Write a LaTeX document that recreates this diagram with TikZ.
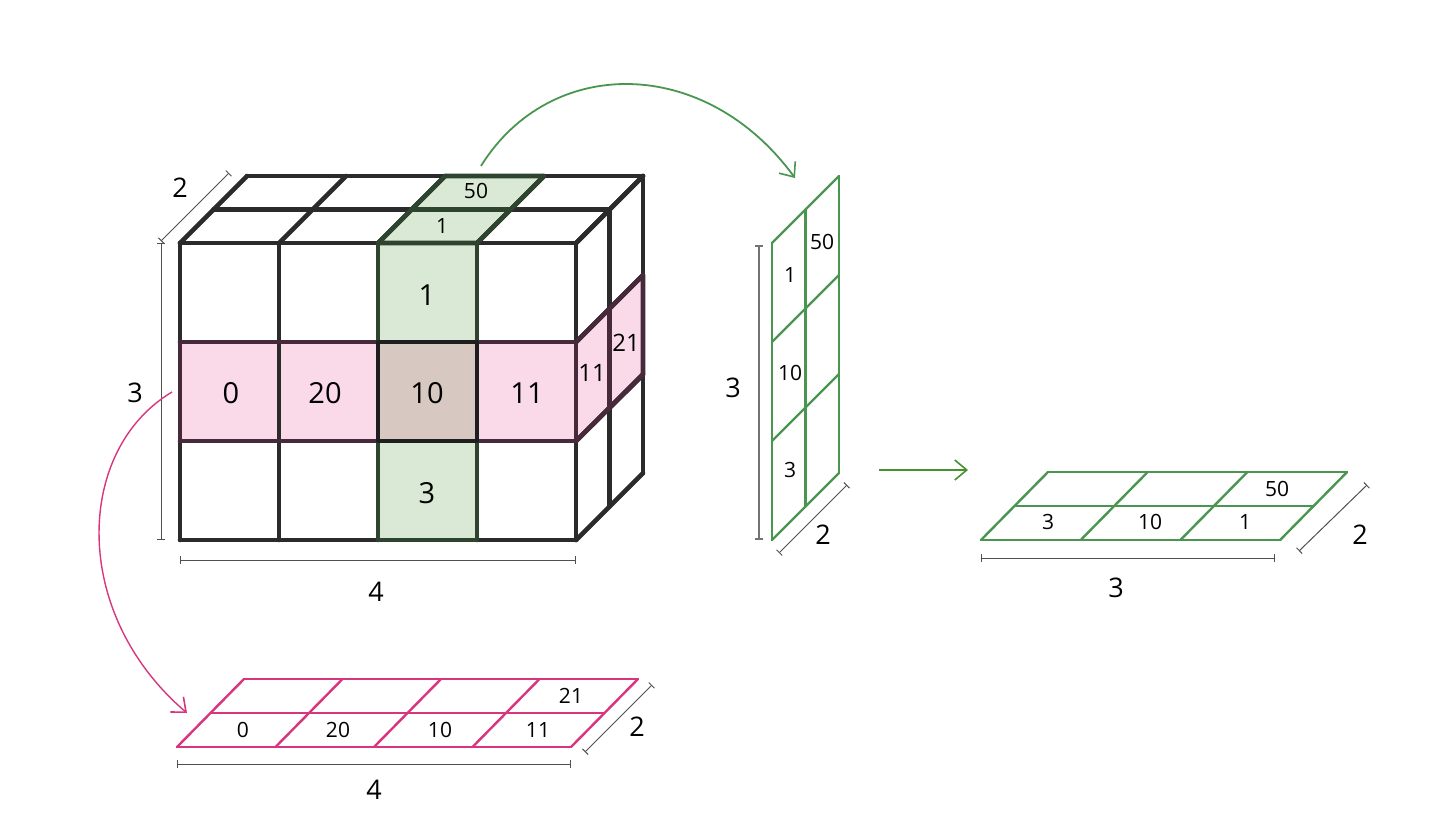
\documentclass[tikz,border=0pt]{standalone}
\usepackage{fontspec}
\setmainfont{Open Sans}
\usetikzlibrary{arrows.meta}

\definecolor{cubeline}{HTML}{2B2B2B}
\definecolor{rowfill}{HTML}{FADAE9}
\definecolor{colfill}{HTML}{D9E9D5}
\definecolor{bothfill}{HTML}{D7C9C1}
\definecolor{rowline}{HTML}{46293A}
\definecolor{colline}{HTML}{2E442E}
\definecolor{slicegreen}{HTML}{4A9650}
\definecolor{arrowgreen}{HTML}{45922F}
\definecolor{slicepink}{HTML}{D8357E}
\definecolor{dimline}{HTML}{505050}

\begin{document}
\begin{tikzpicture}[
		x = 1pt, y = -1pt, % pixel grid, y pointing down
		> = {Straight Barb[length=12pt,width=20pt,line width=1.6pt]}, % arrow head style
		cube/.style = {draw=cubeline, line width=4.6pt, line cap=round, line join=round},
		slice/.style = {line width=2.4pt, line cap=round, line join=round},
		dim/.style = {draw=dimline, line width=1pt, {Bar[width=8pt]}-{Bar[width=8pt]}},
		big/.style = {font=\fontsize{29}{30}\selectfont},
		mid/.style = {font=\fontsize{24}{26}\selectfont},
		small/.style = {font=\fontsize{21}{22}\selectfont},
		dimlabel/.style = {font=\fontsize{27}{28}\selectfont}
		]
		
		\useasboundingbox (0,0) rectangle (1444,822);
		
		% the cube: highlighted row and column
		\fill[rowfill] (180,342) rectangle (576,441);
		\fill[rowfill] (576,342) -- (643,275) -- (643,375) -- (576,441) -- cycle;
		\fill[colfill] (378,243) rectangle (477,540);
		\fill[colfill] (378,243) -- (477,243) -- (544,176) -- (445,176) -- cycle;
		\fill[bothfill] (378,342) rectangle (477,441);
		
		% front face
		\foreach \i in {0,...,4}
		\draw[cube] (180+99*\i,243) -- (180+99*\i,540);
		\foreach \j in {0,...,3}
		\draw[cube] (180,243+99*\j) -- (576,243+99*\j);
		% top face
		\foreach \i in {0,...,4}
		\draw[cube] (180+99*\i,243) -- (247+99*\i,176);
		\draw[cube] (213.5,209.5) -- (609.5,209.5);
		\draw[cube] (247,176) -- (643,176);
		% right face
		\foreach \j in {0,...,3}
		\draw[cube] (576,243+99*\j) -- (643,176+99*\j);
		\draw[cube] (609.5,209.5) -- (609.5,506.5);
		\draw[cube] (643,176) -- (643,473);
		
		% tinted borders of the highlighted cells
		\draw[cube, draw=rowline] (180,342) rectangle (378,441) (477,342) -- (576,342) -- (576,441) -- (477,441);
		\draw[cube, draw=rowline] (576,342) -- (643,275) -- (643,375) -- (576,441) (609.5,308.5) -- (609.5,407.5);
		\draw[cube, draw=colline] (378,243) -- (378,342) (477,243) -- (477,342) (378,441) -- (378,540) -- (477,540) -- (477,441);
		\draw[cube, draw=colline] (378,243) -- (445,176) -- (544,176) -- (477,243) -- cycle (411.5,209.5) -- (510.5,209.5);
		\draw[cube, draw=cubeline!70!black] (378,342) rectangle (477,441);
		
		% cube labels
		\node[big] (f1) at (427,295) {1};
		\node[big] (r0) at (231,393) {0};
		\node[big] (r20) at (325,393) {20};
		\node[big] (r10) at (427,393) {10};
		\node[big] (r11) at (527,393) {11};
		\node[big] (f3) at (427,493) {3};
		\node[mid] (s11) at (592,373) {11};
		\node[mid] (s21) at (626,343) {21};
		\node[small] (t1) at (442,226) {1};
		\node[small] (t50) at (476,191) {50};
		
		% cube dimensions
		\draw[dim] (161,243) -- (161,540);
		\draw[dim] (180,560) -- (576,560);
		\draw[dim] (161,241) -- (229,173);
		\node[dimlabel] (cd2) at (180,188) {2};
		\node[dimlabel] (cd3) at (135,393) {3};
		\node[dimlabel] (cd4) at (376,592) {4};
		
		% upright green slice
		\foreach \j in {0,...,3}
		\draw[slice, slicegreen] (772,243+99*\j) -- (839,176+99*\j);
		\draw[slice, slicegreen] (772,243) -- (772,540);
		\draw[slice, slicegreen] (805.5,209.5) -- (805.5,506.5);
		\draw[slice, slicegreen] (839,176) -- (839,473);
		\node[small] (v1) at (790,275) {1};
		\node[small] (v50) at (822,242) {50};
		\node[small] (v10) at (790,373) {10};
		\node[small] (v3) at (790,470) {3};
		\draw[dim, line width=1.6pt, draw=dimline!80] (759,245) -- (759,540);
		\draw[dim] (779,553) -- (847,485);
		\node[dimlabel] (vd3) at (733,388) {3};
		\node[dimlabel] (vd2) at (823,535) {2};
		
		% flat green slice
		\foreach \i in {0,...,3}
		\draw[slice, slicegreen] (981+99.7*\i,540) -- (1048+99.7*\i,472);
		\draw[slice, slicegreen] (981,540) -- (1280,540);
		\draw[slice, slicegreen] (1014.5,506) -- (1313.5,506);
		\draw[slice, slicegreen] (1048,472) -- (1346,472);
		\node[small] (h3) at (1048,522) {3};
		\node[small] (h10) at (1150,522) {10};
		\node[small] (h1) at (1245,522) {1};
		\node[small] (h50) at (1277,489) {50};
		\draw[dim] (981,558) -- (1275,558);
		\draw[dim] (1299,551) -- (1367,485);
		\node[dimlabel] (hd3) at (1116,588) {3};
		\node[dimlabel] (hd2) at (1360,535) {2};
		
		% flat pink slice
		\foreach \i in {0,...,4}
		\draw[slice, slicepink] (177+98.5*\i,747) -- (244+98.5*\i,679);
		\draw[slice, slicepink] (177,747) -- (571,747);
		\draw[slice, slicepink] (210.5,713) -- (604.5,713);
		\draw[slice, slicepink] (244,679) -- (638,679);
		\node[small] (p0) at (243,730) {0};
		\node[small] (p20) at (338,730) {20};
		\node[small] (p10) at (440,730) {10};
		\node[small] (p11) at (538,730) {11};
		\node[small] (p21) at (571,696) {21};
		\draw[dim] (177,764) -- (571,764);
		\draw[dim] (585,752) -- (652,685);
		\node[dimlabel] (pd4) at (374,790) {4};
		\node[dimlabel] (pd2) at (637,727) {2};
		
		% connectors
		\coordinate (colout) at (481,166);
		\coordinate (colin) at (795,178);
		\coordinate (rowout) at (172,392);
		\coordinate (rowin) at (187,713);
		\coordinate (flatout) at (879,470);
		\coordinate (flatin) at (968,470);
		\draw[->, slicegreen, line width=1.8pt] (colout) .. controls (550,55) and (705,55) .. (colin);
		\draw[->, slicepink, line width=1.4pt] (rowout) .. controls (75,450) and (70,613) .. (rowin);
		\draw[->, arrowgreen, line width=2pt] (flatout) -- (flatin);
		
	\end{tikzpicture}
\end{document}
